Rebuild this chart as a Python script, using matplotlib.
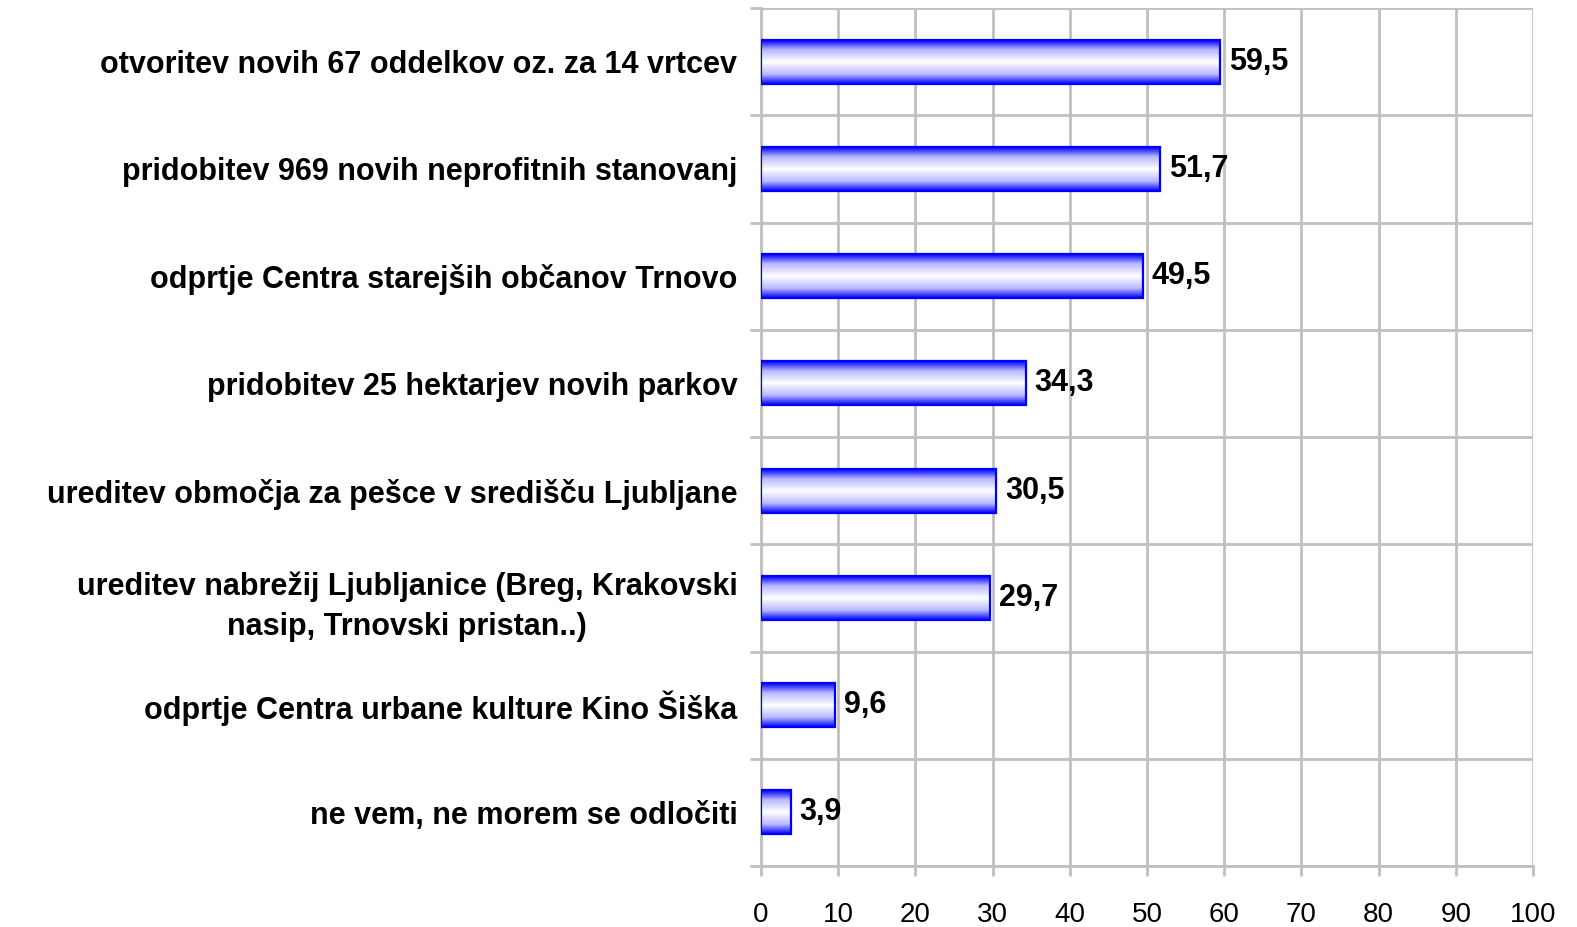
import numpy as np
import matplotlib.pyplot as plt
from matplotlib.colors import LinearSegmentedColormap

categories = [
    "otvoritev novih 67 oddelkov oz. za 14 vrtcev",
    "pridobitev 969 novih neprofitnih stanovanj",
    "odprtje Centra starejših občanov Trnovo",
    "pridobitev 25 hektarjev novih parkov",
    "ureditev območja za pešce v središču Ljubljane",
    "ureditev nabrežij Ljubljanice (Breg, Krakovski\nnasip, Trnovski pristan..)",
    "odprtje Centra urbane kulture Kino Šiška",
    "ne vem, ne morem se odločiti",
]
values = [59.5, 51.7, 49.5, 34.3, 30.5, 29.7, 9.6, 3.9]
value_labels = ["59,5", "51,7", "49,5", "34,3", "30,5", "29,7", "9,6", "3,9"]
xticks = list(range(0, 101, 10))

plt.rcParams['font.family'] = ['Liberation Sans', 'DejaVu Sans']

fig = plt.figure(figsize=(15.77, 9.27), dpi=100)
ax = fig.add_axes([761/1577, 1 - 866/927, (1533 - 761)/1577, (866 - 8)/927])

n = len(categories)
ypos = np.arange(n)

# gradient: blue at edges, white in the middle
cmap = LinearSegmentedColormap.from_list(
    "bw", [(0, "#0000ff"), (0.22, "#b8b8ff"), (0.5, "#ffffff"), (0.78, "#b8b8ff"), (1, "#0000ff")])
grad = np.linspace(0, 1, 200).reshape(-1, 1)
bh = 0.41
for y, v in zip(ypos, values):
    ax.imshow(grad, cmap=cmap, aspect='auto', extent=(0, v, y + bh/2, y - bh/2),
              interpolation='bilinear', zorder=3)
ax.barh(ypos, values, height=bh, facecolor='none', edgecolor='#0000ff', linewidth=1.6, zorder=4)
ax.set_xlim(0, 100)
ax.set_ylim(n - 0.5, -0.5)

for y, v, lab in zip(ypos, values, value_labels):
    ax.text(v + 1.1, y, lab, va='center', ha='left', fontsize=22, fontweight='bold', zorder=5)

ax.set_yticks(ypos)
ax.set_yticklabels(categories, fontsize=22, fontweight='bold', ha='right',
                   multialignment='center', linespacing=1.45)
ax.tick_params(axis='y', which='major', length=0, pad=17)
ax.set_yticks(np.arange(-0.5, n, 1), minor=True)
ax.tick_params(axis='y', which='minor', length=8, color='#c0c0c0', width=2)

ax.set_xticks(xticks)
ax.tick_params(axis='x', length=7, color='#c0c0c0', width=2, labelsize=20, pad=19)

ax.grid(axis='x', which='major', color='#c0c0c0', linewidth=2, zorder=0)
ax.grid(axis='y', which='minor', color='#c0c0c0', linewidth=2, zorder=0)
ax.set_axisbelow(True)

for s in ['top', 'right']:
    ax.spines[s].set_visible(False)
for s in ['left', 'bottom']:
    ax.spines[s].set_color('#c0c0c0')
    ax.spines[s].set_linewidth(2)

fig.savefig("out.png", dpi=100)
